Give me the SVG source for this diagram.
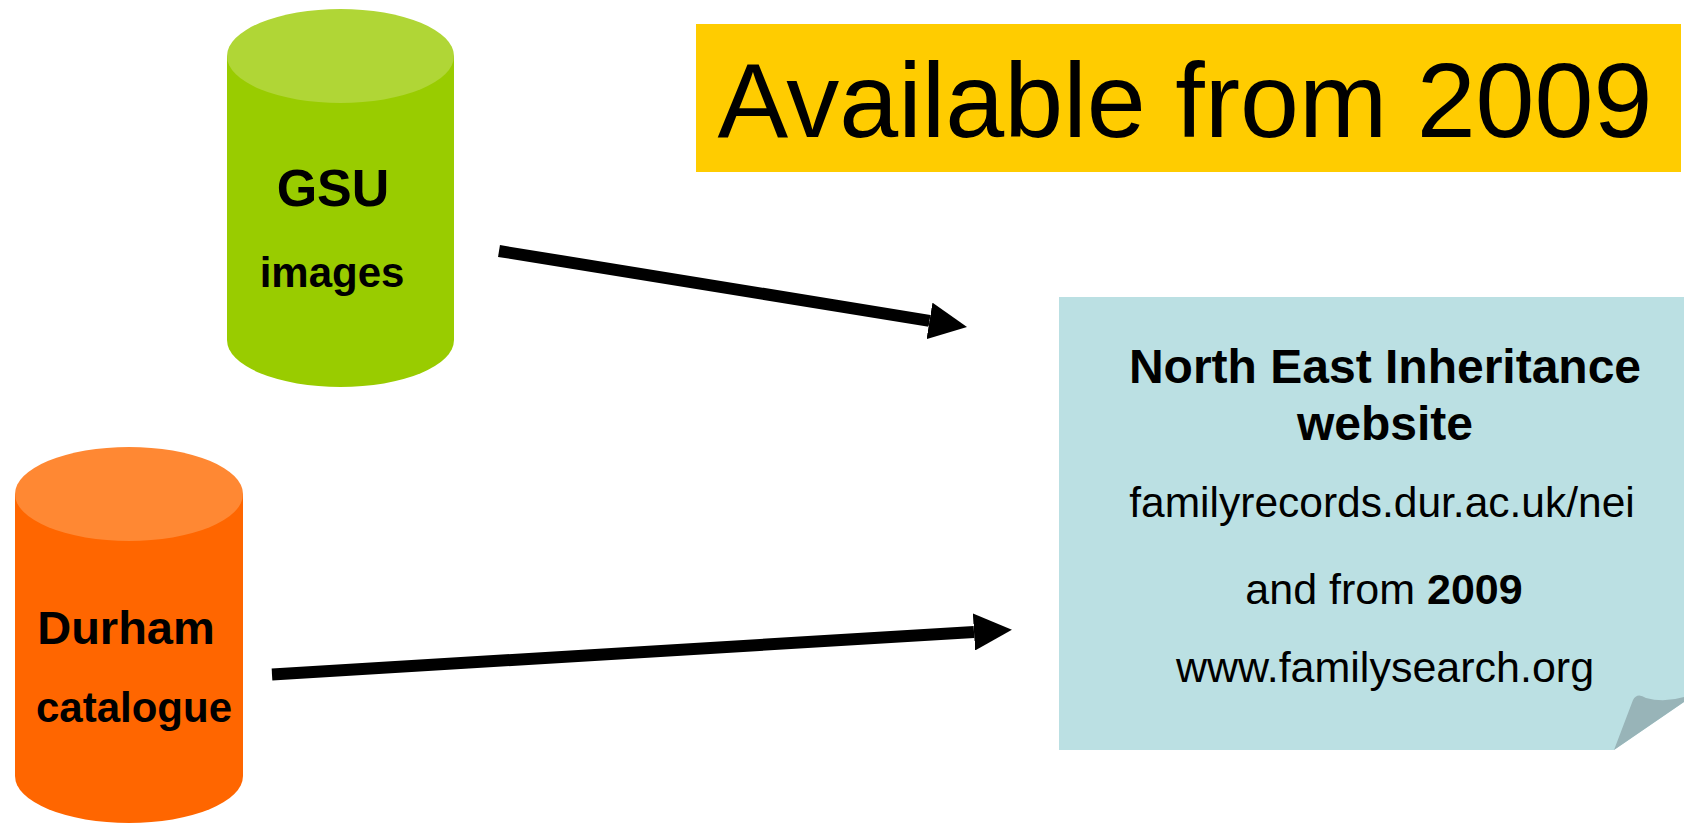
<svg xmlns="http://www.w3.org/2000/svg" width="1684" height="824" viewBox="0 0 1684 824">
<style>
  text { font-family: "Liberation Sans", Arial, sans-serif; fill: #000; }
  .b { font-weight: bold; }
  .conn { stroke: #000; stroke-width: 12; fill: none; marker-end: url(#ah); }
</style>
<defs>
  <marker id="ah" viewBox="0 0 38 37" refX="0" refY="18.5" markerWidth="38" markerHeight="37" markerUnits="userSpaceOnUse" orient="auto">
    <path d="M0,0 L38,18.5 L0,37 Z" fill="#000"/>
  </marker>
</defs>
<rect width="1684" height="824" fill="#fff"/>

<g id="title">
  <rect x="696" y="24" width="985" height="148" fill="#ffcc00"/>
  <text x="1185" y="137" font-size="106" text-anchor="middle">Available from 2009</text>
</g>

<g id="gsu">
  <path d="M227,56 V340 A113.5,47 0 0 0 454,340 V56 Z" fill="#99cc00"/>
  <ellipse cx="340.5" cy="56" rx="113.5" ry="47" fill="#b0d636"/>
  <text x="333" y="206" font-size="52" class="b" text-anchor="middle">GSU</text>
  <text x="332" y="287" font-size="42" class="b" text-anchor="middle">images</text>
</g>

<g id="durham">
  <path d="M15,494 V776 A114,47 0 0 0 243,776 V494 Z" fill="#ff6600"/>
  <ellipse cx="129" cy="494" rx="114" ry="47" fill="#ff8833"/>
  <text x="126" y="644" font-size="47" class="b" text-anchor="middle">Durham</text>
  <text x="134" y="722" font-size="42" class="b" text-anchor="middle">catalogue</text>
</g>

<g id="nei">
  <path d="M1059,297 H1684 V702 L1614,750 H1059 Z" fill="#bbe0e3"/>
  <path d="M1614,750 L1633,700 Q1637,692 1646,698 Q1664,703 1684,697 V702 Z" fill="#98b4b8"/>
  <text x="1385" y="383" font-size="48" class="b" text-anchor="middle">North East Inheritance</text>
  <text x="1385" y="440" font-size="48" class="b" text-anchor="middle">website</text>
  <text x="1382" y="517" font-size="42.5" text-anchor="middle">familyrecords.dur.ac.uk/nei</text>
  <text x="1384" y="604" font-size="43" text-anchor="middle">and from <tspan class="b">2009</tspan></text>
  <text x="1385" y="682" font-size="43" text-anchor="middle">www.familysearch.org</text>
</g>

<g id="connectors">
  <line class="conn" x1="499" y1="251" x2="929.5" y2="320.9"/>
  <line class="conn" x1="272" y1="674.5" x2="974" y2="632"/>
</g>
</svg>
